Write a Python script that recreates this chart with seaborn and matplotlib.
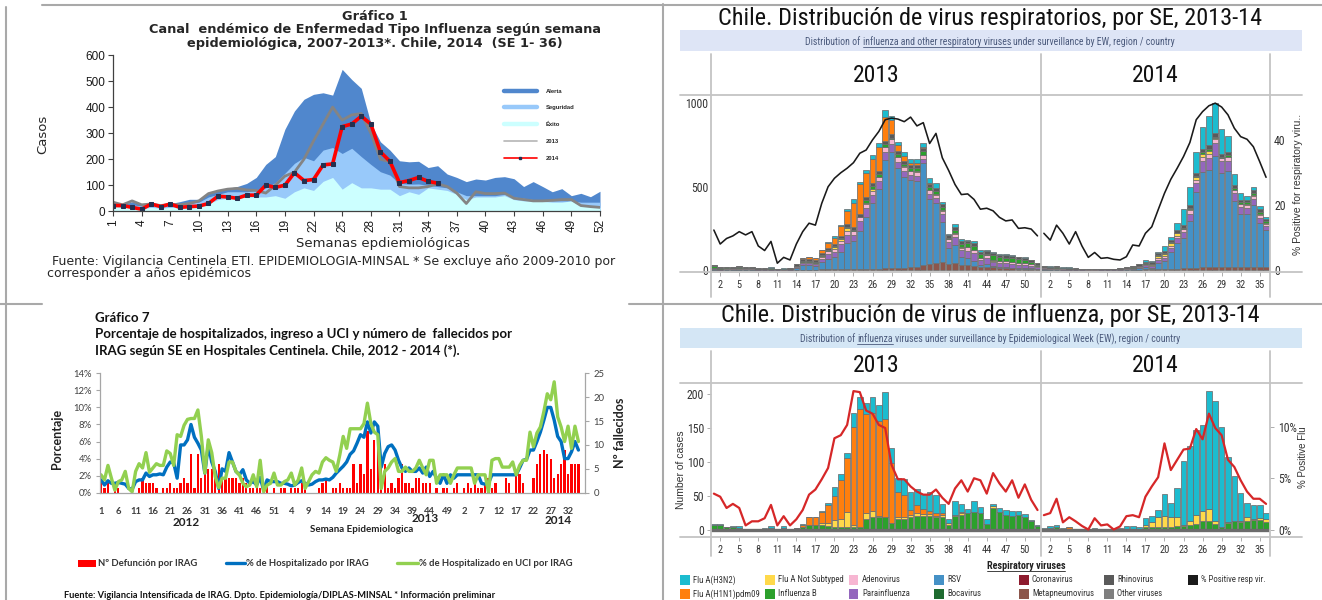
import matplotlib
matplotlib.use("Agg")
import matplotlib.pyplot as plt
from matplotlib import font_manager
from matplotlib.lines import Line2D
from matplotlib.patches import Rectangle
import numpy as np
import pandas as pd
import seaborn as sns

sns.set_theme(style="white")
plt.rcParams["font.family"] = ["Liberation Sans", "DejaVu Sans"]
plt.rcParams["axes.unicode_minus"] = False

_installed = {f.name for f in font_manager.fontManager.ttflist}


def pick(*names):
    for n in names:
        if n in _installed:
            return [n, "DejaVu Sans"]
    return ["DejaVu Sans"]


ARIAL = pick("Liberation Sans", "Arimo")
WIDE = ["DejaVu Sans"]
NARROW = pick("Liberation Sans Narrow", "DejaVu Sans Condensed", "Roboto Condensed", "Liberation Sans")
CALIBRI = pick("Lato", "Open Sans")

# ---------------------------------------------------------------- data
# Gráfico 1: canal endémico ETI (semanas 1-52)
semanas = list(range(1, 53))
alerta = [40, 25, 37, 25, 27, 27, 30, 37, 46, 46, 70, 80, 88, 95, 107, 130, 180, 210, 315, 385,
          430, 449, 455, 446, 545, 506, 472, 338, 267, 235, 194, 190, 192, 168, 175, 143, 130, 114, 124, 120,
          130, 133, 125, 95, 114, 95, 75, 87, 60, 69, 56, 77]
seguridad = [30, 25, 25, 20, 25, 22, 25, 27, 30, 35, 55, 65, 75, 75, 75, 80, 90, 110, 146, 184,
             207, 194, 235, 245, 222, 242, 210, 180, 152, 139, 107, 104, 105, 100, 95, 90, 75, 60, 60, 60,
             60, 65, 55, 50, 45, 45, 40, 40, 40, 35, 35, 35]
exito = [20, 15, 15, 10, 15, 12, 15, 15, 15, 20, 30, 45, 50, 50, 55, 55, 55, 60, 50, 75,
         90, 80, 115, 130, 85, 110, 90, 90, 85, 85, 60, 75, 65, 90, 85, 80, 65, 45, 55, 55,
         55, 60, 45, 40, 40, 38, 35, 35, 40, 20, 18, 15]
casos_2013 = [35, 25, 40, 25, 28, 22, 27, 25, 30, 40, 68, 78, 85, 88, 82, 80, 70, 100, 135, 150,
              200, 270, 335, 400, 350, 370, 375, 300, 200, 190, 95, 90, 90, 95, 105, 95, 70, 30, 75, 68,
              68, 70, 50, 45, 40, 40, 42, 45, 45, 22, 18, 15]
casos_2014 = [22, 22, 15, 8, 28, 18, 28, 15, 18, 20, 30, 58, 55, 50, 62, 62, 100, 92, 100, 148,
              118, 122, 178, 182, 325, 335, 365, 335, 228, 192, 110, 118, 130, 115, 108]

# Virus respiratorios por SE, 2013 (52 semanas) y 2014 (36 semanas)
se_2013 = list(range(1, 53))
se_2014 = list(range(1, 37))
h3n2_2013 = [1, 2, 0, 2, 3, 0, 0, 0, 1, 3, 0, 3, 0, 0, 1, 0, 0, 2, 3, 13,
             9, 8, 21, 17, 16, 23, 24, 40, 22, 22, 24, 27, 24, 22, 28, 26, 13, 6, 20, 12,
             6, 16, 10, 7, 3, 6, 7, 8, 5, 5, 2, 1]
h1n1_2013 = [0, 0, 0, 0, 0, 0, 0, 0, 0, 0, 0, 0, 0, 0, 3, 12, 13, 17, 28, 36,
             57, 80, 146, 175, 147, 145, 140, 145, 88, 36, 32, 8, 12, 7, 4, 5, 4, 1, 0, 1,
             0, 0, 0, 0, 0, 0, 0, 0, 0, 0, 0, 0]
nosub_2013 = [0, 0, 0, 0, 0, 0, 0, 0, 0, 0, 0, 0, 0, 0, 0, 0, 0, 3, 4, 10,
              12, 22, 2, 0, 8, 10, 2, 1, 0, 4, 4, 3, 4, 3, 3, 2, 3, 2, 2, 3,
              0, 0, 0, 0, 3, 0, 0, 0, 0, 0, 0, 0]
fluB_2013 = [7, 6, 4, 3, 2, 1, 1, 1, 1, 2, 1, 2, 1, 2, 4, 6, 6, 6, 5, 4,
             4, 4, 4, 4, 16, 18, 18, 18, 10, 15, 15, 18, 20, 20, 20, 18, 18, 7, 20, 22,
             24, 26, 24, 8, 32, 26, 22, 20, 22, 18, 12, 5]
meta_2013 = [2, 1, 1, 1, 1, 1, 1, 1, 1, 1, 1, 1, 1, 2, 2, 2, 2, 3, 3, 3,
             3, 4, 4, 5, 5, 8, 8, 10, 10, 10, 12, 15, 20, 30, 35, 40, 50, 35, 40, 30,
             30, 25, 20, 20, 15, 12, 10, 10, 8, 8, 6, 5]
para_2013 = [5, 3, 4, 4, 5, 5, 5, 2, 2, 3, 2, 1, 2, 5, 10, 10, 12, 20, 28, 30,
             45, 50, 40, 55, 55, 50, 50, 50, 45, 40, 35, 30, 30, 25, 30, 30, 45, 35, 45, 40,
             45, 45, 30, 35, 25, 25, 25, 25, 20, 20, 15, 10]
adeno_2013 = [5, 3, 4, 3, 5, 4, 4, 2, 2, 2, 1, 1, 2, 5, 8, 8, 8, 12, 15, 18,
              20, 22, 22, 25, 25, 25, 25, 28, 28, 25, 22, 22, 25, 22, 20, 20, 20, 18, 20, 15,
              20, 18, 12, 18, 10, 10, 12, 12, 10, 12, 12, 8]
rhino_2013 = [8, 4, 5, 5, 7, 7, 7, 3, 2, 3, 2, 2, 3, 12, 12, 10, 10, 12, 14, 15,
              15, 18, 18, 18, 18, 18, 18, 20, 20, 18, 18, 18, 18, 20, 18, 18, 17, 15, 17, 15,
              15, 15, 12, 15, 12, 12, 13, 12, 12, 10, 10, 8]
vrs_2013 = [2, 1, 2, 2, 2, 2, 2, 1, 1, 1, 1, 0, 1, 10, 30, 27, 19, 45, 65, 76,
            105, 156, 167, 231, 310, 393, 475, 648, 700, 600, 548, 525, 513, 611, 392, 361, 240, 97, 112, 48,
            40, 31, 12, 17, 6, 5, 5, 3, 3, 3, 3, 3]
pos_resp_2013 = [12.3, 8.0, 9.7, 10.5, 11.8, 10.8, 11.8, 7.4, 6.0, 8.8, 2.1, 3.9, 3.1, 8.0, 11.8, 14.4, 13.8, 20.5, 25.6, 28.2,
                 29.9, 31.3, 33.0, 35.9, 36.9, 40.0, 42.6, 46.2, 46.7, 46.4, 45.6, 47.0, 44.3, 45.3, 38.9, 42.0, 34.5, 30.6, 26.3, 23.2,
                 23.4, 21.7, 18.7, 19.0, 18.2, 16.2, 15.1, 15.4, 12.8, 13.0, 12.6, 10.5]
pos_flu_2013 = [3.5, 3.2, 2.1, 2.5, 2.1, 0.4, 0.8, 0.8, 1.1, 2.4, 0.4, 1.3, 0.4, 1.0, 1.9, 3.4, 3.9, 4.9, 6.0, 8.9,
                9.2, 10.2, 13.5, 13.4, 11.6, 11.3, 10.2, 9.9, 6.3, 4.9, 4.9, 4.2, 3.7, 3.4, 3.4, 3.9, 3.1, 2.5, 4.0, 4.8,
                3.7, 5.0, 4.8, 3.5, 5.5, 4.5, 3.7, 4.8, 3.1, 4.4, 2.9, 1.9]

h3n2_2014 = [1, 3, 4, 1, 1, 0, 0, 0, 1, 0, 0, 0, 1, 4, 4, 2, 11, 9, 10, 32,
             21, 43, 95, 112, 126, 127, 174, 178, 148, 96, 66, 41, 21, 21, 19, 8]
h1n1_2014 = [0, 0, 0, 0, 2, 0, 0, 0, 0, 0, 0, 0, 0, 0, 0, 0, 0, 0, 0, 0,
             0, 0, 0, 0, 0, 0, 0, 0, 0, 0, 0, 0, 0, 0, 0, 0]
nosub_2014 = [0, 0, 0, 0, 0, 0, 0, 0, 0, 0, 0, 0, 0, 0, 0, 0, 3, 7, 15, 16,
              15, 14, 2, 6, 13, 16, 19, 5, 0, 1, 0, 2, 6, 2, 3, 5]
fluB_2014 = [1, 2, 3, 1, 1, 1, 0, 0, 1, 0, 0, 0, 1, 1, 1, 1, 3, 4, 4, 4,
             4, 5, 5, 6, 8, 12, 12, 8, 4, 10, 13, 11, 13, 14, 14, 11]
meta_2014 = [2, 2, 2, 1, 1, 1, 1, 1, 1, 1, 1, 1, 1, 2, 2, 2, 3, 3, 4, 5,
             6, 8, 10, 10, 12, 15, 15, 18, 15, 18, 15, 15, 18, 15, 18, 20]
para_2014 = [6, 5, 5, 4, 3, 2, 2, 1, 1, 1, 1, 1, 2, 3, 4, 6, 8, 8, 15, 18,
             25, 30, 35, 45, 55, 70, 75, 80, 70, 60, 45, 40, 35, 35, 30, 25]
adeno_2014 = [5, 4, 4, 3, 2, 2, 2, 1, 1, 1, 1, 1, 2, 3, 4, 5, 6, 6, 10, 12,
              15, 15, 18, 20, 20, 22, 22, 22, 20, 20, 18, 18, 18, 20, 18, 15]
rhino_2014 = [8, 5, 6, 4, 4, 3, 3, 2, 1, 2, 2, 2, 2, 5, 6, 8, 10, 8, 12, 12,
              14, 16, 18, 18, 20, 22, 22, 22, 20, 20, 18, 16, 16, 18, 16, 15]
vrs_2014 = [2, 1, 1, 1, 1, 1, 0, 0, 0, 1, 1, 1, 1, 2, 4, 11, 16, 10, 40, 46,
            100, 152, 180, 283, 455, 571, 584, 666, 566, 578, 401, 320, 316, 375, 266, 217]
pos_resp_2014 = [11.3, 9.2, 13.8, 11.3, 8.0, 11.8, 7.4, 3.9, 5.4, 3.6, 3.8, 3.3, 3.1, 4.1, 7.7, 7.4, 11.3, 13.3, 18.5, 23.6,
                 27.9, 31.3, 34.9, 39.2, 46.2, 48.7, 50.5, 51.3, 50.1, 47.7, 43.6, 41.0, 40.2, 37.9, 33.3, 28.5]
pos_flu_2014 = [1.4, 1.6, 3.0, 0.7, 1.2, 0.8, 0.35, 0.0, 1.1, 0.4, 0.5, 0.0, 0.3, 1.3, 1.4, 1.2, 3.2, 4.2, 5.1, 8.4,
                5.8, 6.8, 7.8, 7.9, 9.8, 8.8, 11.3, 9.9, 9.2, 6.8, 6.1, 4.8, 3.7, 3.0, 3.0, 2.5]

# Gráfico 7: IRAG en hospitales centinela, 2012 - 2014
hosp_2012 = [1.5, 0.9, 1.4, 1.1, 1.1, 1.2, 1.1, 1.0, 0.5, 0.4, 1.3, 1.5, 1.5, 2.3, 1.9, 2.1, 2.1, 2.2, 2.1, 3.0,
             3.6, 3.5, 1.7, 5.6, 5.6, 6.2, 8.0, 6.5, 5.8, 5.0, 2.3, 5.6, 3.6, 2.5, 0.5, 2.8, 2.5, 4.7, 3.6, 2.5,
             2.1, 2.7, 1.5, 1.1, 1.3, 0.9, 1.8, 0.3, 1.5, 1.3, 1.3, 1.3]
uci_2012 = [2.1, 1.5, 3.2, 1.7, 0.3, 1.3, 1.5, 2.5, 0.5, 0.1, 2.5, 3.4, 2.9, 4.7, 2.4, 2.9, 3.4, 3.2, 3.2, 4.9,
            4.6, 3.2, 6.8, 6.6, 7.9, 8.6, 8.7, 8.7, 9.7, 6.6, 2.3, 6.2, 4.7, 1.9, 0.6, 1.7, 1.7, 3.6, 3.6, 2.5,
            2.1, 1.1, 0.7, 0.9, 2.1, 0.7, 3.8, 0.1, 0.9, 1.1, 2.3, 0.9]
def_2012 = [2, 1, 2, 0, 1, 1, 0, 0, 0, 1, 0, 1, 3, 2, 2, 2, 1, 0, 1, 1,
            2, 1, 1, 2, 3, 2, 8, 1, 8, 3, 4, 5, 5, 5, 6, 3, 3, 3, 3, 3,
            2, 3, 2, 1, 1, 2, 1, 1, 2, 0, 1, 0]
hosp_2013 = [1.1, 1.1, 1.0, 0.8, 0.9, 1.2, 1.4, 1.1, 0.9, 1.0, 1.3, 1.5, 1.5, 1.6, 1.5, 1.8, 2.3, 2.7, 3.1, 3.6,
             4.5, 4.9, 5.8, 6.8, 6.5, 8.3, 7.0, 8.3, 7.8, 3.0, 4.6, 5.4, 5.6, 5.0, 3.8, 2.9, 2.5, 2.9, 2.5, 2.5,
             2.9, 2.3, 3.0, 1.9, 2.5, 1.7, 1.1, 2.1, 1.1, 2.1, 1.7, 2.1]
uci_2013 = [0.9, 1.3, 1.5, 2.3, 0.9, 1.5, 2.9, 0.5, 1.3, 2.1, 2.5, 2.3, 3.6, 4.1, 3.8, 3.6, 2.5, 4.4, 6.6, 5.2,
            7.5, 7.5, 7.5, 7.5, 8.1, 10.5, 8.1, 7.1, 6.8, 0.5, 2.5, 2.9, 3.6, 4.0, 2.5, 2.5, 3.0, 2.5, 2.5, 2.9,
            3.8, 2.9, 2.1, 3.8, 3.8, 1.1, 2.1, 2.1, 2.1, 1.1, 2.1, 2.9]
def_2013 = [1, 1, 0, 1, 1, 1, 2, 1, 0, 0, 0, 1, 2, 3, 0, 1, 1, 2, 1, 1,
            1, 6, 2, 6, 4, 13, 5, 11, 10, 6, 6, 1, 2, 1, 3, 6, 2, 2, 1, 3,
            3, 2, 2, 2, 0, 1, 0, 1, 1, 0, 1, 2]
hosp_2014 = [2.1, 2.1, 2.1, 2.1, 2.1, 2.1, 1.1, 1.0, 1.1, 2.1, 2.1, 2.1, 2.1, 2.1, 2.1, 2.1, 2.1, 2.9, 3.8, 3.9,
             5.0, 5.0, 6.0, 7.1, 8.5, 10.0, 10.0, 8.5, 6.6, 6.0, 4.0, 4.0, 4.8, 6.0, 5.0]
uci_2014 = [2.9, 2.9, 2.9, 2.9, 1.1, 2.1, 2.1, 2.1, 0.1, 3.8, 4.0, 4.0, 3.0, 3.0, 3.0, 3.6, 2.1, 3.2, 3.8, 3.8,
            7.1, 5.4, 7.0, 7.7, 9.5, 11.6, 10.9, 13.0, 8.9, 7.7, 6.0, 7.8, 5.2, 7.8, 6.0]
def_2014 = [0, 1, 2, 1, 2, 1, 1, 2, 3, 1, 2, 0, 0, 3, 2, 0, 4, 4, 2, 0,
            0, 3, 6, 8, 9, 8, 7, 3, 4, 6, 9, 4, 6, 6, 6]

# ---------------------------------------------------------------- figure helpers
W, H = 1322, 600
fig = plt.figure(figsize=(W / 100, H / 100), dpi=100)
fig.patch.set_facecolor("white")


def box(x0, y0, x1, y1):
    return [x0 / W, 1 - y1 / H, (x1 - x0) / W, (y1 - y0) / H]


def put(x, y, s, **kw):
    kw.setdefault("ha", "center")
    kw.setdefault("va", "center")
    return fig.text(x / W, 1 - y / H, s, **kw)


def hline(x0, x1, y, **kw):
    fig.add_artist(Line2D([x0 / W, x1 / W], [1 - y / H] * 2, **kw))


def vline(x, y0, y1, **kw):
    fig.add_artist(Line2D([x / W] * 2, [1 - y0 / H, 1 - y1 / H], **kw))


def rect(x0, y0, x1, y1, **kw):
    fig.add_artist(Rectangle((x0 / W, 1 - y1 / H), (x1 - x0) / W, (y1 - y0) / H,
                             transform=fig.transFigure, **kw))


renderer = fig.canvas.get_renderer()


def text_width(s, **kw):
    t = fig.text(0, 0, s, **kw)
    w = t.get_window_extent(renderer).width
    t.remove()
    return w


def segmented(xc, y_base, parts, **kw):
    """Centered line of text; parts flagged True are underlined."""
    space = text_width("a a", **kw) - text_width("aa", **kw)
    widths = [text_width(p, **kw) for p, _ in parts]
    x = xc - (sum(widths) + space * (len(parts) - 1)) / 2
    for (p, under), w in zip(parts, widths):
        fig.text(x / W, 1 - y_base / H, p, ha="left", va="baseline", **kw)
        if under:
            hline(x, x + w, y_base + 1.6, color=kw.get("color", "black"), lw=0.6)
        x += w + space


# page frame
FRAME = dict(color="#a9a9a9", lw=1.5)
hline(42, 1322, 5, **FRAME)
vline(6, 7, 600, **FRAME)
vline(662.5, 4, 600, **FRAME)
hline(0, 42, 304, **FRAME)
hline(629, 1322, 304, **FRAME)

# ---------------------------------------------------------------- Gráfico 1
c_alerta, c_seg, c_exito = "#5087cd", "#98c9fa", "#ccffff"
ax1 = fig.add_axes(box(113, 55, 600, 211.3))
ax1.fill_between(semanas, 0, alerta, color=c_alerta, lw=0)
ax1.fill_between(semanas, 0, seguridad, color=c_seg, lw=0)
ax1.fill_between(semanas, 0, exito, color=c_exito, lw=0)
sns.lineplot(x=semanas, y=casos_2013, ax=ax1, color="#848484", linewidth=2.0)
sns.lineplot(x=semanas[:len(casos_2014)], y=casos_2014, ax=ax1, color="#ff0000", linewidth=2.6,
             marker="s", markersize=3, markerfacecolor="#243050", markeredgecolor="#243050")
ax1.set_xlim(1, 52)
ax1.set_ylim(0, 600)
ax1.set_xlabel("")
ax1.set_ylabel("")
ax1.set_yticks(range(0, 601, 100))
ax1.set_xticks(range(1, 53, 3))
ax1.set_xticklabels([str(w) for w in range(1, 53, 3)], rotation=90, fontsize=8.5, family=ARIAL)
ax1.set_yticklabels([str(v) for v in range(0, 601, 100)], fontsize=8.5, family=ARIAL)
ax1.tick_params(axis="both", bottom=True, left=True, direction="out", length=3.5, width=0.8,
                color="#404040", labelcolor="#1a1a1a", pad=2)
for side in ("top", "right"):
    ax1.spines[side].set_visible(False)
for side in ("left", "bottom"):
    ax1.spines[side].set_color("#404040")
    ax1.spines[side].set_linewidth(0.9)
leg_handles = [Line2D([], [], color=c_alerta, lw=3.2), Line2D([], [], color=c_seg, lw=3.2),
               Line2D([], [], color=c_exito, lw=3.2), Line2D([], [], color="#b5b5b5", lw=1.2),
               Line2D([], [], color="#ff0000", lw=1.2, marker="s", markersize=1.8,
                      markerfacecolor="#243050", markeredgecolor="#243050")]
ax1.legend(leg_handles, ["Alerta", "Seguridad", "Éxito", "2013", "2014"], loc="upper left",
           bbox_to_anchor=(0.803, 0.785), frameon=False, prop={"size": 4.2, "weight": "bold"},
           handlelength=5.6, labelspacing=2.0, handletextpad=1.6, borderaxespad=0, borderpad=0)

put(375, 16, "Gráfico 1", fontsize=9.3, fontweight="bold", family=WIDE)
put(375, 30, "Canal  endémico de Enfermedad Tipo Influenza según semana", fontsize=9.3, fontweight="bold", family=WIDE)
put(375, 44, "epidemiológica, 2007-2013*. Chile, 2014  (SE 1- 36)", fontsize=9.3, fontweight="bold", family=WIDE)
put(43, 134, "Casos", rotation=90, fontsize=9.5, family=WIDE)
put(383, 243, "Semanas epdiemiológicas", fontsize=9.5, family=WIDE)
put(52, 262, "Fuente: Vigilancia Centinela ETI. EPIDEMIOLOGIA-MINSAL * Se excluye año 2009-2010 por",
    ha="left", fontsize=9.0, family=WIDE)
put(47, 273, "corresponder a años epidémicos", ha="left", fontsize=9.0, family=WIDE)

# ---------------------------------------------------------------- virus panels
COL = {
    "Flu A(H3N2)": "#1cbccf", "Flu A(H1N1)pdm09": "#ff7f0e", "Flu A Not Subtyped": "#ffd94a",
    "Influenza B": "#2ca02c", "Adenovirus": "#f7b6d2", "Parainfluenza": "#9467bd", "RSV": "#4591c6",
    "Bocavirus": "#1e6b30", "Coronavirus": "#8e1b2e", "Metapneumovirus": "#8c564b",
    "Rhinovirus": "#5a5a5a", "Other viruses": "#7f7f7f", "% Positive resp vir.": "#1a1a1a",
}


def long_frame(weeks, series):
    return pd.concat([pd.DataFrame({"semana": weeks, "virus": name, "casos": vals})
                      for name, vals in series.items()], ignore_index=True)


resp = {
    2013: long_frame(se_2013, {"Flu A(H3N2)": h3n2_2013, "Flu A(H1N1)pdm09": h1n1_2013,
                               "Rhinovirus": rhino_2013, "Influenza B": fluB_2013,
                               "Flu A Not Subtyped": nosub_2013, "Adenovirus": adeno_2013,
                               "Parainfluenza": para_2013, "RSV": vrs_2013,
                               "Metapneumovirus": meta_2013}),
    2014: long_frame(se_2014, {"Flu A(H3N2)": h3n2_2014, "Flu A(H1N1)pdm09": h1n1_2014,
                               "Rhinovirus": rhino_2014, "Influenza B": fluB_2014,
                               "Flu A Not Subtyped": nosub_2014, "Adenovirus": adeno_2014,
                               "Parainfluenza": para_2014, "RSV": vrs_2014,
                               "Metapneumovirus": meta_2014}),
}
resp_order = ["Flu A(H3N2)", "Flu A(H1N1)pdm09", "Rhinovirus", "Influenza B", "Flu A Not Subtyped",
              "Adenovirus", "Parainfluenza", "RSV", "Metapneumovirus"]
flu = {
    2013: long_frame(se_2013, {"Flu A(H3N2)": h3n2_2013, "Flu A(H1N1)pdm09": h1n1_2013,
                               "Flu A Not Subtyped": nosub_2013, "Influenza B": fluB_2013}),
    2014: long_frame(se_2014, {"Flu A(H3N2)": h3n2_2014, "Flu A(H1N1)pdm09": h1n1_2014,
                               "Flu A Not Subtyped": nosub_2014, "Influenza B": fluB_2014}),
}
flu_order = ["Flu A(H3N2)", "Flu A(H1N1)pdm09", "Flu A Not Subtyped", "Influenza B"]

FACET_X = {2013: (711, 1041), 2014: (1041, 1270)}
FACET_LIM = {2013: (0.55, 52.55), 2014: (0.55, 36.62)}
FACET_TICKS = {2013: list(range(2, 53, 3)), 2014: list(range(2, 37, 3))}
GRID = dict(color="#c4c4c4", lw=1.3)


def facet_panel(top, bottom, frames, order, lines, line_color, line_lw, ylim_l, ylim_r,
                lticks, llabels, rticks, rlabels, ltick_len, rtick_len, baseline=False):
    axes = []
    for yr in (2013, 2014):
        x0, x1 = FACET_X[yr]
        ax = fig.add_axes(box(x0, top, x1, bottom))
        sns.histplot(data=frames[yr], x="semana", weights="casos", hue="virus", hue_order=order,
                     palette=COL, multiple="stack", discrete=True, shrink=0.88, alpha=1,
                     edgecolor="#6e6e6e", linewidth=0.55, legend=False, ax=ax)
        if baseline:
            ax.axhline(0, color="#6b6b6b", lw=2.4, zorder=3)
        axt = ax.twinx()
        weeks = se_2013 if yr == 2013 else se_2014
        sns.lineplot(x=weeks, y=lines[yr], ax=axt, color=line_color, linewidth=line_lw)
        ax.set_xlim(*FACET_LIM[yr])
        ax.set_ylim(*ylim_l)
        axt.set_ylim(*ylim_r)
        for a in (ax, axt):
            for s in a.spines.values():
                s.set_visible(False)
            a.set_xlabel("")
            a.set_ylabel("")
            a.grid(False)
        ax.set_xticks(FACET_TICKS[yr])
        ax.set_xticklabels([str(t) for t in FACET_TICKS[yr]], fontsize=7.5, family=NARROW, color="#333333")
        ax.tick_params(axis="x", bottom=True, length=3, width=0.6, color="#a0a0a0", pad=2.5)
        if yr == 2013:
            ax.set_yticks(lticks)
            ax.set_yticklabels(llabels, fontsize=8.5, family=NARROW, color="#333333")
            ax.tick_params(axis="y", left=True, length=ltick_len, width=0.6, color="#a0a0a0", pad=2)
            axt.set_yticks([])
        else:
            ax.set_yticks([])
            axt.set_yticks(rticks)
            axt.set_yticklabels(rlabels, fontsize=8.5, family=NARROW, color="#333333")
            axt.tick_params(axis="y", right=True, length=rtick_len, width=0.6, color="#a0a0a0", pad=3)
        axes.append((ax, axt))
    return axes


# -- respiratory viruses
facet_panel(95, 272, resp, resp_order, {2013: pos_resp_2013, 2014: pos_resp_2014}, "#1a1a1a", 1.15,
            (-12, 1049), (-0.6, 53.8), [0, 500, 1000], ["0", "500", "1000"],
            [0, 20, 40], ["0", "20", "40"], 0, 0)
hline(680, 1302, 95, **GRID)
hline(680, 1302, 272, **GRID)
for xv in (711, 1041, 1270):
    vline(xv, 54, 297, **GRID)
put(990, 18, "Chile. Distribución de virus respiratorios, por SE, 2013-14", fontsize=17.5, family=NARROW, color="#111111")
rect(680, 30, 1302, 51, color="#dee5f6", lw=0)
segmented(990, 45, [("Distribution of", False), ("influenza and other respiratory viruses", True),
                    ("under surveillance by EW, region / country", False)],
          fontsize=7, family=NARROW, color="#4b5a7c")
put(876, 75, "2013", fontsize=17, family=NARROW, color="#111111")
put(1155, 75, "2014", fontsize=17, family=NARROW, color="#111111")
put(1298, 184, "% Positive for respiratory viru..", rotation=90, fontsize=7.5, family=ARIAL, color="#333333")

# -- influenza viruses
facet_panel(383, 537, flu, flu_order, {2013: pos_flu_2013, 2014: pos_flu_2014}, "#d62728", 1.6,
            (-11.1, 217), (-0.73, 14.29), [0, 50, 100, 150, 200], ["0", "50", "100", "150", "200"],
            [0, 5, 10], ["0%", "5%", "10%"], 3, 3, baseline=True)
hline(680, 1302, 383, **GRID)
hline(680, 1302, 537, **GRID)
for xv in (711, 1041, 1270):
    vline(xv, 351, 556, **GRID)
put(990, 316, "Chile. Distribución de virus de influenza, por SE, 2013-14", fontsize=17.5, family=NARROW, color="#111111")
rect(680, 328, 1302, 348, color="#d4e6f5", lw=0)
segmented(990, 342, [("Distribution of", False), ("influenza", True),
                     ("viruses under surveillance by Epidemiological Week (EW), region / country", False)],
          fontsize=7, family=NARROW, color="#4b5a7c")
put(876, 365, "2013", fontsize=17, family=NARROW, color="#111111")
put(1155, 365, "2014", fontsize=17, family=NARROW, color="#111111")
put(681, 470, "Number of cases", rotation=90, fontsize=7.5, family=ARIAL, color="#333333")
put(1303, 457, "% Positive Flu", rotation=90, fontsize=7, family=ARIAL, color="#333333")

segmented(1026, 569, [("Respiratory viruses", True)], fontsize=7.3, fontweight="bold", family=NARROW, color="#222222")
legend_cols = [680, 765, 849, 934, 1019, 1104, 1188]
legend_rows = [
    ["Flu A(H3N2)", "Flu A Not Subtyped", "Adenovirus", "RSV", "Coronavirus", "Rhinovirus", "% Positive resp vir."],
    ["Flu A(H1N1)pdm09", "Influenza B", "Parainfluenza", "Bocavirus", "Metapneumovirus", "Other viruses"],
]
for yc, names in zip([580, 594], legend_rows):
    for xc, name in zip(legend_cols, names):
        rect(xc, yc - 5, xc + 9.5, yc + 5, color=COL[name], lw=0)
        put(xc + 13, yc, name, ha="left", fontsize=6.3, family=NARROW, color="#333333")

# ---------------------------------------------------------------- Gráfico 7
semanas_irag = se_2013 + se_2013 + se_2014[:35]
hosp = hosp_2012 + hosp_2013 + hosp_2014
uci = uci_2012 + uci_2013 + uci_2014
defunciones = def_2012 + def_2013 + def_2014
pos = np.arange(len(semanas_irag))

ax3 = fig.add_axes(box(100, 373.3, 585, 492.7))
ax3r = ax3.twinx()
ax3r.bar(pos, defunciones, width=0.65, color="#ff0000", linewidth=0)
ax3.set_zorder(ax3r.get_zorder() + 1)
ax3.patch.set_visible(False)
sns.lineplot(x=pos, y=hosp, ax=ax3, color="#0070c0", linewidth=2.4)
sns.lineplot(x=pos, y=uci, ax=ax3, color="#92d050", linewidth=2.4)
ax3.set_xlim(-0.3, 139.9)
ax3.set_ylim(0, 14)
ax3r.set_ylim(0, 25)
for a in (ax3, ax3r):
    a.set_xlabel("")
    a.set_ylabel("")
    a.grid(False)
    for s in a.spines.values():
        s.set_visible(False)
ax3.spines["left"].set_visible(True)
ax3.spines["bottom"].set_visible(True)
ax3r.spines["right"].set_visible(True)
for s in (ax3.spines["left"], ax3.spines["bottom"], ax3r.spines["right"]):
    s.set_color("#a6a6a6")
    s.set_linewidth(0.9)
ax3.set_yticks(range(0, 15, 2))
ax3.set_yticklabels([f"{v}%" for v in range(0, 15, 2)], fontsize=6.8, family=CALIBRI, color="#404040")
ax3r.set_yticks(range(0, 26, 5))
ax3r.set_yticklabels([str(v) for v in range(0, 26, 5)], fontsize=6.8, family=CALIBRI, color="#404040")
ax3.set_xticks(pos[::5])
ax3.set_xticklabels([str(semanas_irag[i]) for i in pos[::5]], fontsize=6.8, fontweight="bold",
                    family=CALIBRI, color="#404040")
ax3.tick_params(axis="y", left=True, length=3, width=0.8, color="#a6a6a6", pad=3)
ax3.tick_params(axis="x", bottom=False, pad=4)
ax3r.tick_params(axis="y", right=True, length=3, width=0.8, color="#a6a6a6", pad=3)

put(95, 318, "Gráfico 7", ha="left", fontsize=9.5, fontweight="bold", family=CALIBRI, color="#111111")
put(95, 334, "Porcentaje de hospitalizados, ingreso a UCI y número de  fallecidos por",
    ha="left", fontsize=9.5, fontweight="bold", family=CALIBRI, color="#111111")
put(95, 351, "IRAG según SE en Hospitales Centinela. Chile, 2012 - 2014 (*).",
    ha="left", fontsize=9.5, fontweight="bold", family=CALIBRI, color="#111111")
put(57, 439, "Porcentaje", rotation=90, fontsize=9, fontweight="bold", family=CALIBRI, color="#222222")
put(620, 433, "Nº fallecidos", rotation=90, fontsize=9, fontweight="bold", family=CALIBRI, color="#222222")
put(186, 522, "2012", fontsize=8.5, fontweight="bold", family=CALIBRI, color="#222222")
put(425, 519, "2013", fontsize=8.5, fontweight="bold", family=CALIBRI, color="#222222")
put(558, 521, "2014", fontsize=8.5, fontweight="bold", family=CALIBRI, color="#222222")
put(362, 530, "Semana Epidemiologica", fontsize=7, fontweight="bold", family=CALIBRI, color="#222222")

rect(78, 559.5, 96, 566.5, color="#ff0000", lw=0)
put(98, 563, "Nº Defunción por IRAG", ha="left", fontsize=6.8, fontweight="bold", family=CALIBRI, color="#333333")
hline(226, 245, 563, color="#0070c0", lw=2.4)
put(246.5, 563, "% de Hospitalizado por IRAG", ha="left", fontsize=6.8, fontweight="bold", family=CALIBRI, color="#333333")
hline(397, 418, 563, color="#92d050", lw=2.4)
put(419, 563, "% de Hospitalizado en UCI por IRAG", ha="left", fontsize=6.8, fontweight="bold", family=CALIBRI, color="#333333")
put(64, 596, "Fuente: Vigilancia Intensificada de IRAG. Dpto. Epidemiología/DIPLAS-MINSAL * Información preliminar",
    ha="left", fontsize=6.7, fontweight="bold", family=CALIBRI, color="#111111")

fig.savefig("out.png", dpi=100, facecolor="white")
